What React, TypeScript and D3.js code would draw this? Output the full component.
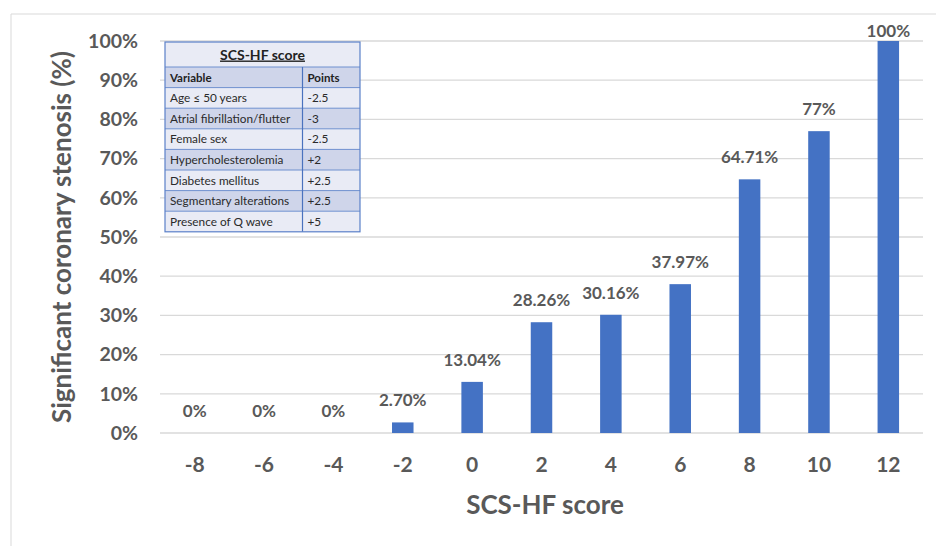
import * as d3 from "d3";

const scores = ["-8", "-6", "-4", "-2", "0", "2", "4", "6", "8", "10", "12"];
const stenosis = [0, 0, 0, 2.7, 13.04, 28.26, 30.16, 37.97, 64.71, 77, 100];
const valueLabels = ["0%", "0%", "0%", "2.70%", "13.04%", "28.26%", "30.16%", "37.97%", "64.71%", "77%", "100%"];
const yTicks = [0, 10, 20, 30, 40, 50, 60, 70, 80, 90, 100];

const tableTitle = "SCS-HF score";
const tableHeader = ["Variable", "Points"];
const tableVariables = [
  "Age \u2264 50 years",
  "Atrial fibrillation/flutter",
  "Female sex",
  "Hypercholesterolemia",
  "Diabetes mellitus",
  "Segmentary alterations",
  "Presence of Q wave",
];
const tablePoints = ["-2.5", "-3", "-2.5", "+2", "+2.5", "+2.5", "+5"];

const W = 936;
const H = 546;
const margin = { top: 41, right: 13, bottom: 113, left: 160 };
const FONT = "Lato, 'Open Sans', sans-serif";
const TEXT = "#595959";
const BAR = "#4472C4";

export default function App() {
  const x = d3
    .scaleBand()
    .domain(scores)
    .range([margin.left, W - margin.right])
    .paddingInner(0.69)
    .paddingOuter(0.345);

  const y = d3
    .scaleLinear()
    .domain([0, 100])
    .range([H - margin.bottom, margin.top]);

  // table geometry
  const tx = 165, ty = 42, tw = 195, colX = 302.5;
  const titleH = 25, rowH = 20.6;
  const rows = tableVariables.map((v, i) => [v, tablePoints[i]]);

  return (
    <svg
      width={W}
      height={H}
      style={{ position: "absolute", left: 0, top: 0, background: "#fff" }}
      fontFamily={FONT}
    >
      {/* outer frame */}
      <line x1={11} x2={W} y1={14} y2={14} stroke="#D9D9D9" strokeWidth={1} />
      <line x1={11} x2={11} y1={14} y2={H} stroke="#D9D9D9" strokeWidth={1} />

      {/* gridlines */}
      {yTicks.map((t) => (
        <line
          key={t}
          x1={margin.left}
          x2={W - margin.right}
          y1={y(t)}
          y2={y(t)}
          stroke="#D9D9D9"
          strokeWidth={1.3}
        />
      ))}

      {/* y tick labels */}
      {yTicks.map((t) => (
        <text
          key={t}
          x={138}
          y={y(t)}
          dy="0.35em"
          textAnchor="end"
          fontSize={19.5}
          fontWeight="bold"
          fill={TEXT}
        >
          {t}%
        </text>
      ))}

      {/* bars */}
      {scores.map((s, i) => (
        <rect
          key={s}
          x={x(s)}
          y={y(stenosis[i])}
          width={x.bandwidth()}
          height={y(0) - y(stenosis[i])}
          fill={BAR}
        />
      ))}

      {/* value labels */}
      {scores.map((s, i) => (
        <text
          key={s}
          x={(x(s) as number) + x.bandwidth() / 2}
          y={Math.max(y(stenosis[i]) - 16, 37)}
          textAnchor="middle"
          fontSize={17}
          fontWeight="bold"
          fill={TEXT}
        >
          {valueLabels[i]}
        </text>
      ))}

      {/* x tick labels */}
      {scores.map((s) => (
        <text
          key={s}
          x={(x(s) as number) + x.bandwidth() / 2}
          y={472}
          textAnchor="middle"
          fontSize={21}
          fontWeight="bold"
          fill={TEXT}
        >
          {s}
        </text>
      ))}

      {/* axis titles */}
      <text
        x={545}
        y={514}
        textAnchor="middle"
        fontSize={26}
        fontWeight="bold"
        fill={TEXT}
      >
        SCS-HF score
      </text>
      <text
        transform={`translate(71,${(y(0) + y(100)) / 2}) rotate(-90)`}
        textAnchor="middle"
        fontSize={26}
        fontWeight="bold"
        fill={TEXT}
      >
        Significant coronary stenosis (%)
      </text>

      {/* score table */}
      <g>
        <rect x={tx} y={ty} width={tw} height={titleH} fill="#E9EBF5" />
        <text
          x={tx + tw / 2}
          y={ty + 17.5}
          textAnchor="middle"
          fontSize={14}
          fontWeight="bold"
          fill="#222"
          textDecoration="underline"
        >
          {tableTitle}
        </text>
        <rect x={tx} y={ty + titleH} width={tw} height={rowH} fill="#CFD5EA" />
        <text x={tx + 5} y={ty + titleH + 14.5} fontSize={11.5} fontWeight="bold" fill="#222">
          {tableHeader[0]}
        </text>
        <text x={colX + 5} y={ty + titleH + 14.5} fontSize={11.5} fontWeight="bold" fill="#222">
          {tableHeader[1]}
        </text>
        {rows.map(([v, p], i) => {
          const ry = ty + titleH + rowH * (i + 1);
          return (
            <g key={v}>
              <rect x={tx} y={ry} width={tw} height={rowH} fill={i % 2 === 0 ? "#E9EBF5" : "#CFD5EA"} />
              <text x={tx + 5} y={ry + 14.5} fontSize={11.8} fill="#2a2a2a">
                {v}
              </text>
              <text x={colX + 5} y={ry + 14.5} fontSize={11.8} fill="#2a2a2a">
                {p}
              </text>
            </g>
          );
        })}
        {/* inner lines */}
        {d3.range(1, rows.length + 2).map((k) => {
          const ly = ty + titleH + rowH * (k - 1);
          return (
            <line key={k} x1={tx} x2={tx + tw} y1={ly} y2={ly} stroke="#6F90CF" strokeWidth={1} />
          );
        })}
        <line
          x1={colX}
          x2={colX}
          y1={ty + titleH}
          y2={ty + titleH + rowH * (rows.length + 1)}
          stroke="#4A72BE"
          strokeWidth={1.2}
        />
        <rect
          x={tx}
          y={ty}
          width={tw}
          height={titleH + rowH * (rows.length + 1)}
          fill="none"
          stroke="#5B80C8"
          strokeWidth={1.2}
        />
      </g>
    </svg>
  );
}
